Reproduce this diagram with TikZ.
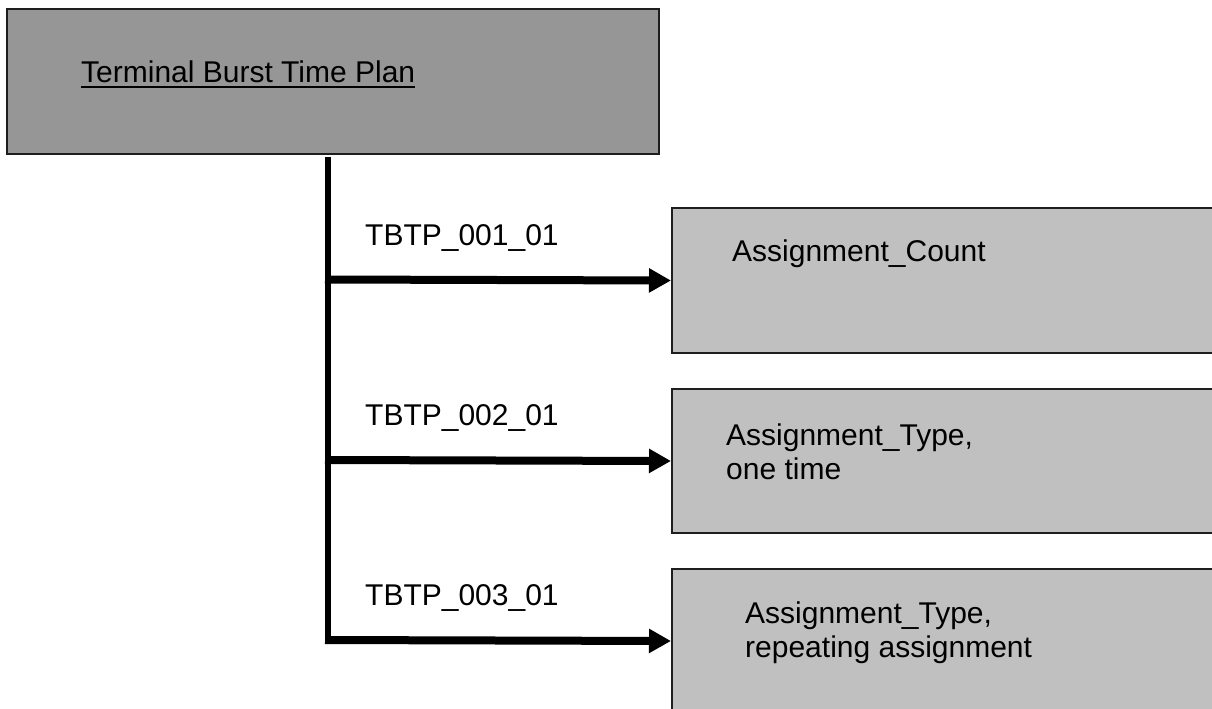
\documentclass[tikz,border=0pt]{standalone}
\usepackage{fontspec}
\setmainfont{Liberation Sans}
\usetikzlibrary{arrows.meta}
\definecolor{topfill}{RGB}{150,150,150}
\definecolor{subfill}{RGB}{192,192,192}
\definecolor{edge}{RGB}{30,30,30}
\tikzset{
  topbox/.style={draw=edge, line width=2pt, fill=topfill, rectangle, inner sep=0pt},
  subbox/.style={draw=edge, line width=2pt, fill=subfill, rectangle, inner sep=0pt},
  txt/.style={anchor=base west, inner sep=0pt, font=\fontsize{30}{34}\selectfont, align=left},
  trunk/.style={line width=6pt},
  arr/.style={line width=8pt, -{Triangle[length=22pt,width=23pt]}},
}
\begin{document}
\begin{tikzpicture}[x=1pt,y=-1pt]
\useasboundingbox (0,0) rectangle (1212,709);
\clip (0,0) rectangle (1212,709);
\fill[white] (0,0) rectangle (1212,709);
% boxes
\node[topbox, minimum width=652pt, minimum height=145pt, anchor=north west] (top) at (6,8) {};
\node[subbox, minimum width=560pt, minimum height=145pt, anchor=north west] (b1) at (671,207) {};
\node[subbox, minimum width=560pt, minimum height=144pt, anchor=north west] (b2) at (671,388) {};
\node[subbox, minimum width=560pt, minimum height=144pt, anchor=north west] (b3) at (671,568) {};
% texts
\node[txt] (title) at (81,82) {Terminal Burst Time Plan};
\draw[line width=2.3pt] ([yshift=-5pt]title.base west) -- ([yshift=-5pt]title.base east);
\node[txt] (l1) at (365,245) {TBTP\_001\_01};
\node[txt] (l2) at (365,425) {TBTP\_002\_01};
\node[txt] (l3) at (365,605) {TBTP\_003\_01};
\node[txt] (t1) at (732,261) {Assignment\_Count};
\node[txt] (t2) at (726,479) {Assignment\_Type,\\one time};
\node[txt] (t3) at (745,657) {Assignment\_Type,\\repeating assignment};
% connectors
\coordinate (s0) at (328,157);
\coordinate (s3) at (328,644);
\coordinate (j1) at (325,279.5);
\coordinate (j2) at (325,460);
\coordinate (j3) at (325,640);
\draw[trunk] (s0) -- (s3);
\draw[arr] (j1) -- (b1.west);
\draw[arr] (j2) -- (b2.west);
\draw[arr] (j3) -- (b3.west);
\end{tikzpicture}
\end{document}
